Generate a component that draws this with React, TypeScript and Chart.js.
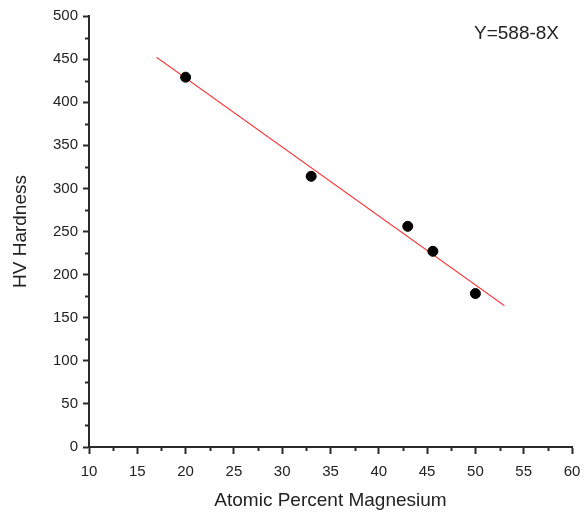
import React, { useEffect, useRef } from "react";
import { Chart, registerables } from "chart.js";

Chart.register(...registerables);

const pointX = [20, 33, 43, 45.6, 50];
const pointY = [429, 314, 256, 227, 178];
const fitX = [17, 53];
const fitY = [452, 164];
const xTicks = [10, 15, 20, 25, 30, 35, 40, 45, 50, 55, 60];
const yTicks = [0, 50, 100, 150, 200, 250, 300, 350, 400, 450, 500];
const equationLabel = "Y=588-8X";
const xTitle = "Atomic Percent Magnesium";
const yTitle = "HV Hardness";

const FONT = "'Liberation Sans', Arial, sans-serif";
const AXIS_COLOR = "#2a2a2a";
const TEXT_COLOR = "#222222";

const minorTicks = {
  id: "minorTicks",
  afterDraw(chart: any) {
    const ctx = chart.ctx;
    const xs = chart.scales.x;
    const ys = chart.scales.y;
    const area = chart.chartArea;
    ctx.save();
    ctx.strokeStyle = AXIS_COLOR;
    ctx.lineWidth = 2;
    ctx.beginPath();
    for (let i = 0; i < yTicks.length - 1; i++) {
      const v = (yTicks[i] + yTicks[i + 1]) / 2;
      const py = Math.round(ys.getPixelForValue(v)) + 0.5;
      ctx.moveTo(area.left - 4, py);
      ctx.lineTo(area.left, py);
    }
    for (let i = 0; i < xTicks.length - 1; i++) {
      const v = (xTicks[i] + xTicks[i + 1]) / 2;
      const px = Math.round(xs.getPixelForValue(v)) + 0.5;
      ctx.moveTo(px, area.bottom);
      ctx.lineTo(px, area.bottom + 4);
    }
    ctx.stroke();
    ctx.fillStyle = TEXT_COLOR;
    ctx.font = `19px ${FONT}`;
    ctx.textAlign = "left";
    ctx.textBaseline = "middle";
    ctx.fillText(equationLabel, area.left + 385, area.top + 18);
    ctx.restore();
  },
};

export default function App() {
  const ref = useRef<HTMLCanvasElement | null>(null);
  useEffect(() => {
    document.body.style.margin = "0";
    const c = ref.current;
    if (!c) return;
    const chart = new Chart(c, {
      type: "scatter",
      data: {
        datasets: [
          {
            type: "line",
            label: "fit",
            data: fitX.map((x, i) => ({ x, y: fitY[i] })),
            borderColor: "#ff2020",
            borderWidth: 1.2,
            pointRadius: 0,
            fill: false,
            order: 2,
          } as any,
          {
            label: "data",
            data: pointX.map((x, i) => ({ x, y: pointY[i] })),
            backgroundColor: "#000000",
            borderColor: "#000000",
            pointRadius: 5,
            pointHoverRadius: 5,
            order: 1,
          },
        ],
      },
      options: {
        animation: false,
        responsive: true,
        maintainAspectRatio: false,
        layout: { padding: { top: 16, right: 12, left: 0, bottom: 0 } },
        plugins: {
          legend: { display: false },
          tooltip: { enabled: false },
        },
        scales: {
          x: {
            type: "linear",
            min: 10,
            max: 60,
            afterFit(scale: any) {
              scale.height = 65;
              scale.paddingLeft = 0;
              scale.paddingRight = 0;
            },
            afterBuildTicks(scale: any) {
              scale.ticks = xTicks.map((v) => ({ value: v }));
            },
            border: { display: true, color: AXIS_COLOR, width: 2 },
            grid: {
              drawOnChartArea: false,
              drawTicks: true,
              tickLength: 7,
              tickWidth: 2,
              tickColor: AXIS_COLOR,
            },
            ticks: {
              color: TEXT_COLOR,
              font: { family: FONT, size: 15 },
              padding: 9,
              maxRotation: 0,
              autoSkip: false,
            },
            title: {
              display: true,
              text: xTitle,
              color: TEXT_COLOR,
              font: { family: FONT, size: 19 },
              padding: { top: 0, bottom: 0 },
            },
          },
          y: {
            type: "linear",
            min: 0,
            max: 500,
            afterFit(scale: any) {
              scale.width = 89;
              scale.paddingTop = 0;
              scale.paddingBottom = 0;
            },
            afterBuildTicks(scale: any) {
              scale.ticks = yTicks.map((v) => ({ value: v }));
            },
            border: { display: true, color: AXIS_COLOR, width: 2 },
            grid: {
              drawOnChartArea: false,
              drawTicks: true,
              tickLength: 6,
              tickWidth: 2,
              tickColor: AXIS_COLOR,
            },
            ticks: {
              color: TEXT_COLOR,
              font: { family: FONT, size: 15 },
              padding: 5,
              autoSkip: false,
            },
            title: {
              display: true,
              text: yTitle,
              color: TEXT_COLOR,
              font: { family: FONT, size: 19 },
              padding: { top: 9, bottom: 0 },
            },
          },
        },
      },
      plugins: [minorTicks],
    });
    return () => chart.destroy();
  }, []);
  return (
    <div style={{ position: "fixed", left: 0, top: 0, width: 584, height: 512, background: "#fff" }}>
      <canvas ref={ref} />
    </div>
  );
}
